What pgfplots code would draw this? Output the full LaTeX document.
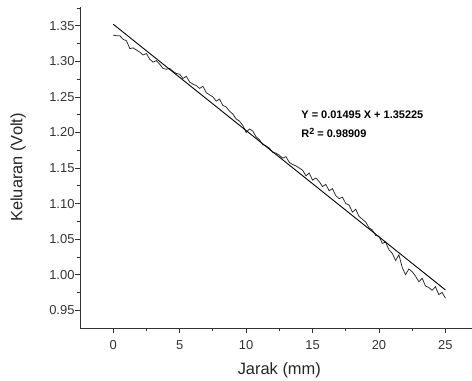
\documentclass[border=0pt]{standalone}
\usepackage{pgfplots}
\pgfplotsset{compat=1.18}
\usepackage{fontspec}
\setmainfont{Liberation Sans}
\begin{document}
\begin{tikzpicture}
\begin{axis}[
  scale only axis, width=392bp, height=321bp,
  xmin=-2.5, xmax=27, ymin=0.925, ymax=1.3765,
  axis x line=bottom, axis y line=left,
  axis line style={-, line width=0.8pt, black!80},
  tick align=outside,
  major tick length=5bp, minor tick length=3bp,
  every tick/.style={black!80, line width=0.8pt},
  xtick={0,5,...,25}, minor xtick={2.5,7.5,...,22.5},
  ytick={0.95,1.00,...,1.36}, minor ytick={0.975,1.025,...,1.36},
  yticklabel style={xshift=3bp, /pgf/number format/.cd, fixed, fixed zerofill, precision=2},
  xticklabel style={yshift=-4bp},
  /pgf/number format/assume math mode=true,
  ticklabel style={font=\fontsize{13}{15}\selectfont, black!80},
  every axis y label/.style={at={(rel axis cs:0,0.5)}, xshift=-62bp, rotate=90, anchor=center, font=\fontsize{16.5}{19}\selectfont, black!85},
  every axis x label/.style={at={(axis cs:12.5,0.925)}, yshift=-42bp, anchor=center, font=\fontsize{16.5}{19}\selectfont, black!85},
  xlabel={Jarak (mm)}, ylabel={Keluaran (Volt)},
  clip=false,
]
\coordinate (sw) at (rel axis cs:0,0);
\coordinate (ne) at (rel axis cs:1,1);
\addplot[black!85, line width=0.75pt] coordinates {
(0,1.337)(0.25,1.336)(0.5,1.336)(0.75,1.331)(1,1.329)(1.25,1.318)(1.5,1.319)(1.75,1.316)
(2,1.313)(2.25,1.309)(2.5,1.311)(2.75,1.303)(3,1.299)(3.25,1.301)(3.5,1.296)(3.75,1.290)
(4,1.289)(4.25,1.290)(4.5,1.286)(4.75,1.283)(5,1.282)(5.25,1.276)(5.5,1.279)(5.75,1.271)
(6,1.268)(6.25,1.266)(6.5,1.262)(6.75,1.265)(7,1.256)(7.25,1.253)(7.5,1.250)(7.75,1.244)
(8,1.247)(8.25,1.238)(8.5,1.236)(8.75,1.230)(9,1.226)(9.25,1.219)(9.5,1.216)(9.75,1.210)
(10,1.200)(10.25,1.205)(10.5,1.202)(10.75,1.194)(11,1.190)(11.25,1.183)(11.5,1.181)(11.75,1.178)
(12,1.172)(12.25,1.171)(12.5,1.168)(12.75,1.164)(13,1.166)(13.25,1.158)(13.5,1.155)(13.75,1.153)
(14,1.150)(14.25,1.147)(14.5,1.139)(14.75,1.143)(15,1.133)(15.25,1.136)(15.5,1.131)(15.75,1.124)
(16,1.127)(16.25,1.118)(16.5,1.121)(16.75,1.111)(17,1.107)(17.25,1.109)(17.5,1.100)(17.75,1.098)
(18,1.088)(18.25,1.092)(18.5,1.082)(18.75,1.078)(19,1.074)(19.25,1.066)(19.5,1.063)(19.75,1.055)
(20,1.054)(20.25,1.044)(20.5,1.046)(20.75,1.035)(21,1.030)(21.25,1.020)(21.5,1.028)(21.75,1.010)
(22,1.000)(22.25,1.008)(22.5,1.004)(22.75,0.998)(23,0.990)(23.25,0.995)(23.5,0.984)(23.75,0.982)
(24,0.978)(24.25,0.983)(24.5,0.972)(24.75,0.975)(25,0.967)
};
\addplot[black, line width=0.9pt] coordinates {(0,1.35225)(25,0.97850)};
\node[anchor=base west, font=\bfseries\fontsize{11}{13}\selectfont, inner sep=0pt]
  at (axis cs:14.15,1.219) {Y = 0.01495 X + 1.35225};
\node[anchor=base west, font=\bfseries\fontsize{11}{13}\selectfont, inner sep=0pt]
  at (axis cs:14.15,1.1925) {R\raisebox{3.5bp}{\fontsize{9}{9}\selectfont 2} = 0.98909};
\end{axis}
\pgfresetboundingbox
\path[use as bounding box] ([shift={(-80bp,-53bp)}]sw) rectangle ([shift={(0bp,7bp)}]ne);
\end{tikzpicture}
\end{document}
